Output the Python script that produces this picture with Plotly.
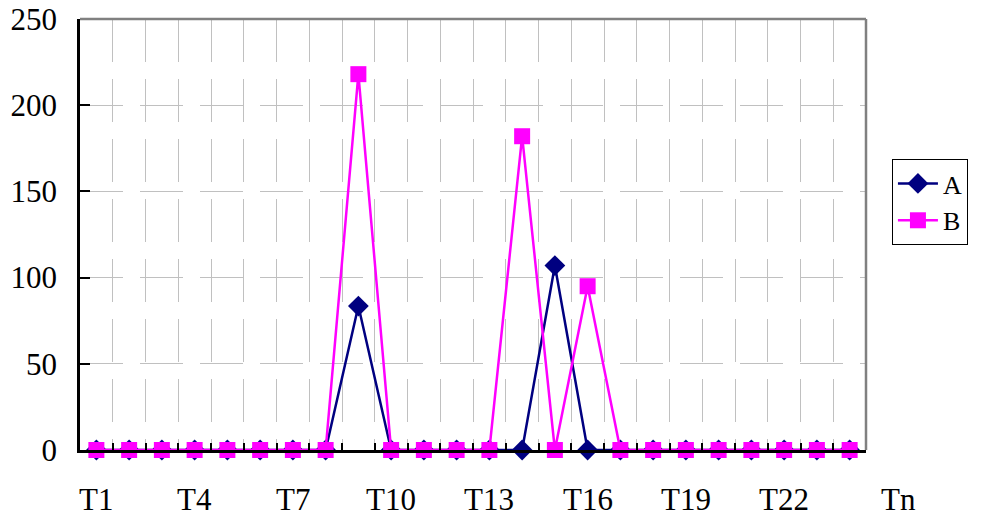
import plotly.graph_objects as go

categories = [f"T{i}" for i in range(1, 25)]
series_a = [0, 0, 0, 0, 0, 0, 0, 0, 83.5, 0, 0, 0, 0, 0, 107, 0, 0, 0, 0, 0, 0, 0, 0, 0]
series_b = [0, 0, 0, 0, 0, 0, 0, 0, 218, 0, 0, 0, 0, 182, 0, 95, 0, 0, 0, 0, 0, 0, 0, 0]
xtick_labels = ["T1", "T4", "T7", "T10", "T13", "T16", "T19", "T22", "Tn"]
xtick_pos = [1, 4, 7, 10, 13, 16, 19, 22, 25.5]
ytick_vals = [0, 50, 100, 150, 200, 250]

xs = list(range(1, len(categories) + 1))
FONT = "Liberation Serif"
XMIN, XMAX = 0.5, 24.5

fig = go.Figure()
fig.add_trace(go.Scatter(
    x=xs, y=series_a, name="A", mode="lines+markers",
    line=dict(color="#000080", width=2.5),
    marker=dict(symbol="diamond", size=16, color="#000080"),
    text=categories, cliponaxis=False,
))
fig.add_trace(go.Scatter(
    x=xs, y=series_b, name="B", mode="lines+markers",
    line=dict(color="#FF00FF", width=2.5),
    marker=dict(symbol="square", size=16, color="#FF00FF"),
    text=categories, cliponaxis=False,
))

for lab, pos in zip(xtick_labels, xtick_pos):
    fig.add_annotation(x=(pos - XMIN) / (XMAX - XMIN), y=0, xref="paper", yref="paper",
                       text=lab, showarrow=False, xanchor="center", yanchor="top",
                       yshift=-30, font=dict(family=FONT, size=31, color="black"))

# grey top and right border
fig.add_shape(type="line", xref="paper", yref="paper", x0=0, x1=1, y0=1, y1=1,
              line=dict(color="#808080", width=2.5))
fig.add_shape(type="line", xref="paper", yref="paper", x0=1, x1=1, y0=0, y1=1,
              line=dict(color="#808080", width=2.5))

fig.update_layout(
    width=991, height=521,
    margin=dict(l=80, r=125, t=19, b=71),
    paper_bgcolor="white", plot_bgcolor="white",
    font=dict(family=FONT, size=31, color="black"),
    showlegend=True,
    legend=dict(x=1.033, y=0.675, xanchor="left", yanchor="top",
                bordercolor="black", borderwidth=1, bgcolor="white",
                font=dict(family=FONT, size=26, color="black"),
                itemwidth=40, tracegroupgap=0),
    xaxis=dict(
        range=[XMIN, XMAX], tickmode="array",
        tickvals=[i + 0.5 for i in range(0, 25)],
        showticklabels=False, automargin=False,
        ticks="inside", ticklen=7, tickcolor="black", tickwidth=1.5,
        showgrid=True, gridcolor="#c0c0c0", gridwidth=1, griddash="43px,17px",
        showline=True, linecolor="black", linewidth=2.5,
        zeroline=False, fixedrange=True,
    ),
    yaxis=dict(
        range=[0, 250], tickmode="array", tickvals=ytick_vals,
        ticks="inside", ticklen=10, tickcolor="black", tickwidth=1.5,
        ticklabelstandoff=14, automargin=False,
        showgrid=True, gridcolor="#c0c0c0", gridwidth=1, griddash="43px,17px",
        showline=True, linecolor="black", linewidth=2.5,
        zeroline=False, fixedrange=True,
        tickfont=dict(family=FONT, size=31, color="black"),
    ),
)

fig.write_html("out.html")
